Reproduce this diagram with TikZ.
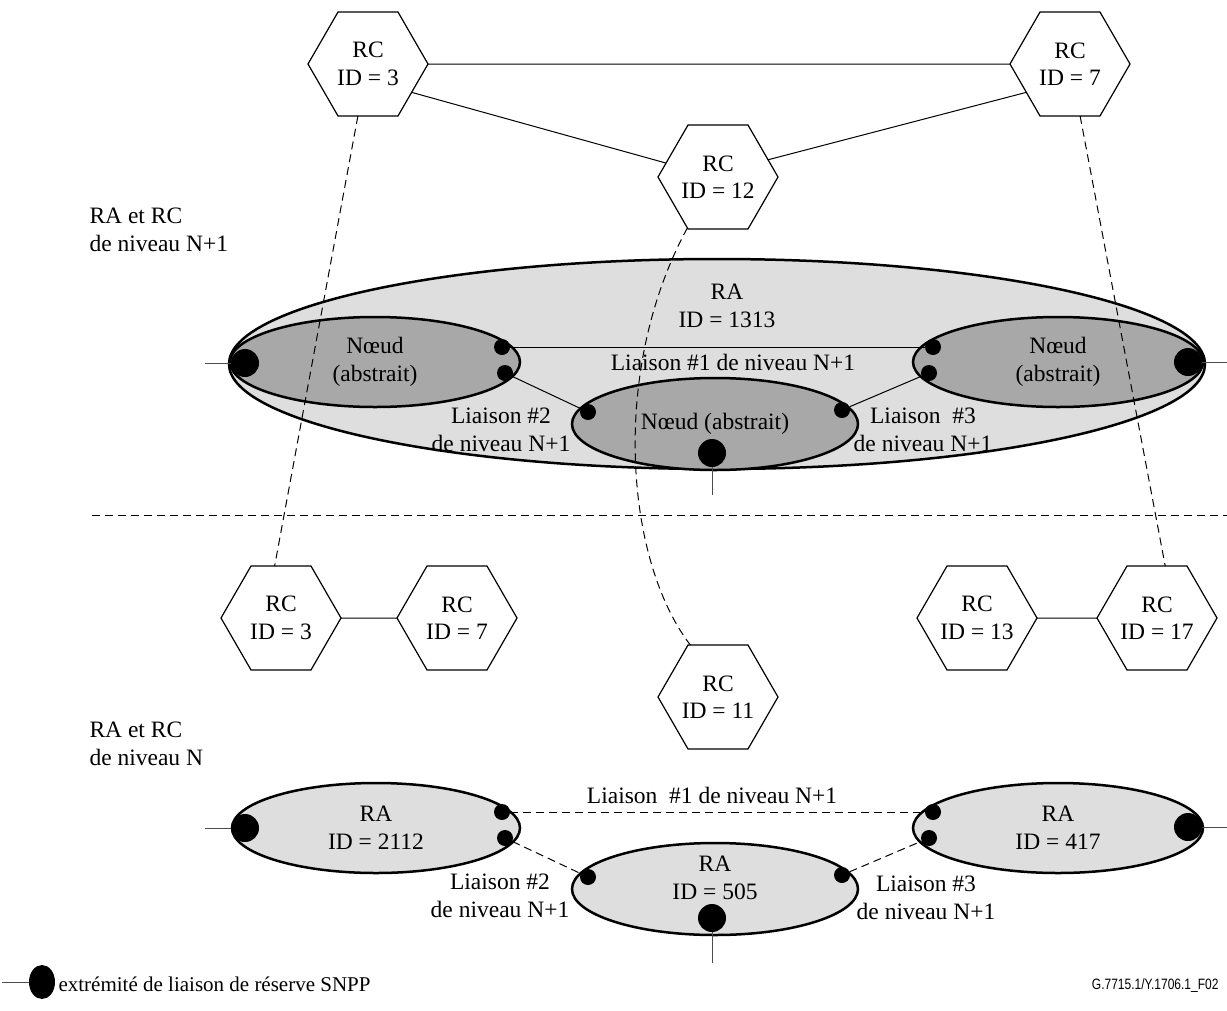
\documentclass[tikz,border=0pt]{standalone}
\usepackage{fontspec}
\setmainfont{Liberation Serif}
\setsansfont{Liberation Sans}
\usepackage{xcolor}
\usepackage{graphicx}
\usetikzlibrary{shapes.geometric}

\definecolor{fondra}{HTML}{DEDEDE}
\definecolor{fondnoeud}{HTML}{A8A8A8}

\tikzset{
  rc/.style={draw, line width=1.2pt, regular polygon, regular polygon sides=6,
    minimum size=120pt, inner sep=0pt, outer sep=0pt, align=center},
  raell/.style={draw, line width=2.5pt, ellipse, inner sep=0pt, outer sep=0pt,
    fill=fondra, align=center},
  noeud/.style={raell, fill=fondnoeud},
  bigdot/.style={circle, fill=black, minimum size=28pt, inner sep=0pt},
  smalldot/.style={circle, fill=black, minimum size=16pt, inner sep=0pt},
  lien/.style={line width=1pt},
  tirets/.style={line width=1pt, dash pattern=on 8pt off 5pt},
  stub/.style={line width=1pt, gray!60!black},
  txt/.style={align=center}
}

\begin{document}
\begin{tikzpicture}[x=1pt,y=-1pt,font=\fontsize{23.5}{27.5}\selectfont]
\useasboundingbox (0,0) rectangle (1227,1010);

% niveau N+1 : RC
\node[rc] (rc3) at (368,64) {RC\\ID = 3};
\node[rc] (rc7) at (1070,64) {RC\\ID = 7};
\node[rc] (rc12) at (718,177) {RC\\ID = 12};
\draw[lien] (rc3.east) -- (rc7.west);
\draw[lien] (rc3.-33) -- (rc12.165);
\draw[lien] (rc12.19) -- (rc7.-147);

\node[anchor=west, align=left] (lvlhaut) at (86,230) {RA et RC\\de niveau N+1};

% niveau N+1 : RA
\node[raell, minimum width=976pt, minimum height=210pt] (ra1313) at (717,364) {};
\node[txt] (ra1313txt) at (727,306) {RA\\ID = 1313};
\node[noeud, minimum width=290pt, minimum height=90pt] (nga) at (375,362) {N\oe ud\\(abstrait)};
\node[noeud, minimum width=290pt, minimum height=90pt] (ndr) at (1058,362) {N\oe ud\\(abstrait)};
\node[noeud, minimum width=286pt, minimum height=92pt] (nmi) at (715,424) {N\oe ud (abstrait)};

\node[smalldot] (ga1) at (502,347) {};
\node[smalldot] (ga2) at (505,373) {};
\node[smalldot] (mi1) at (588,412) {};
\node[smalldot] (mi2) at (842,410) {};
\node[smalldot] (dr1) at (933,347) {};
\node[smalldot] (dr2) at (929,373) {};
\node[bigdot] (gaL) at (245,363) {};
\node[bigdot] (drR) at (1188,362) {};
\node[bigdot] (miB) at (712,453) {};

\draw[lien] (ga1) -- (dr1);
\draw[lien] (ga2) -- (mi1);
\draw[lien] (mi2) -- (dr2);

\coordinate (sg) at (205,363);
\coordinate (sd) at (1227,362);
\coordinate (sb) at (712,495);
\draw[stub] (sg) -- (gaL);
\draw[stub] (drR) -- (sd);
\draw[stub] (miB) -- (sb);

\node[txt] (l1haut) at (733,362) {Liaison \#1 de niveau N+1};
\node[txt] (l2haut) at (501,430) {Liaison \#2\\de niveau N+1};
\node[txt] (l3haut) at (923,430) {Liaison\ \ \#3\\de niveau N+1};

% separation
\coordinate (sep1) at (92,515);
\coordinate (sep2) at (1227,515);
\draw[tirets] (sep1) -- (sep2);

% niveau N : RC
\node[rc] (rcb3) at (281,618) {RC\\ID = 3};
\node[rc] (rcb7) at (457,618) {RC\\ID = 7};
\node[rc] (rcb13) at (977,618) {RC\\ID = 13};
\node[rc] (rcb17) at (1157,618) {RC\\ID = 17};
\node[rc] (rcb11) at (718,697) {RC\\ID = 11};
\draw[lien] (rcb3) -- (rcb7);
\draw[lien] (rcb13) -- (rcb17);

\draw[tirets] (rc3.-101) -- (rcb3.97);
\draw[tirets] (rc7.-79) -- (rcb17.81);
\draw[tirets] (rc12.-121) .. controls (610,370) and (625,560) .. (rcb11.118);

\node[anchor=west, align=left] (lvlbas) at (86,744) {RA et RC\\de niveau N};

% niveau N : RA
\node[raell, minimum width=288pt, minimum height=90pt] (ra2112) at (376,828) {RA\\ID = 2112};
\node[raell, minimum width=290pt, minimum height=90pt] (ra417) at (1058,828) {RA\\ID = 417};
\node[raell, minimum width=286pt, minimum height=92pt] (ra505) at (715,889) {};
\node[txt] (ra505txt) at (715,878) {RA\\ID = 505};

\node[smalldot] (bga1) at (502,812) {};
\node[smalldot] (bga2) at (505,838) {};
\node[smalldot] (bmi1) at (588,877) {};
\node[smalldot] (bmi2) at (842,875) {};
\node[smalldot] (bdr1) at (933,812) {};
\node[smalldot] (bdr2) at (929,838) {};
\node[bigdot] (bgaL) at (245,828) {};
\node[bigdot] (bdrR) at (1188,827) {};
\node[bigdot] (bmiB) at (712,918) {};

\draw[tirets] (bga1) -- (bdr1);
\draw[tirets] (bga2) -- (bmi1);
\draw[tirets] (bmi2) -- (bdr2);

\coordinate (bsg) at (205,828);
\coordinate (bsd) at (1227,827);
\coordinate (bsb) at (712,963);
\draw[stub] (bsg) -- (bgaL);
\draw[stub] (bdrR) -- (bsd);
\draw[stub] (bmiB) -- (bsb);

\node[txt] (l1bas) at (712,795) {Liaison\ \ \#1 de niveau N+1};
\node[txt] (l2bas) at (500,896) {Liaison \#2\\de niveau N+1};
\node[txt] (l3bas) at (926,898) {Liaison \#3\\de niveau N+1};

% legende
\coordinate (lg0) at (2,982);
\node[ellipse, fill=black, minimum width=26pt, minimum height=34pt, inner sep=0pt] (lgdot) at (42,982) {};
\draw[stub] (lg0) -- (lgdot);
\node[anchor=west, font=\fontsize{21}{24}\selectfont] (lgtxt) at (55,984) {extrémité de liaison de réserve SNPP};
\node[anchor=east, font=\sffamily\fontsize{15}{15}\selectfont] (figref) at (1222,986)
  {\scalebox{0.8}[1]{G.7715.1/Y.1706.1\_F02}};
\end{tikzpicture}
\end{document}
